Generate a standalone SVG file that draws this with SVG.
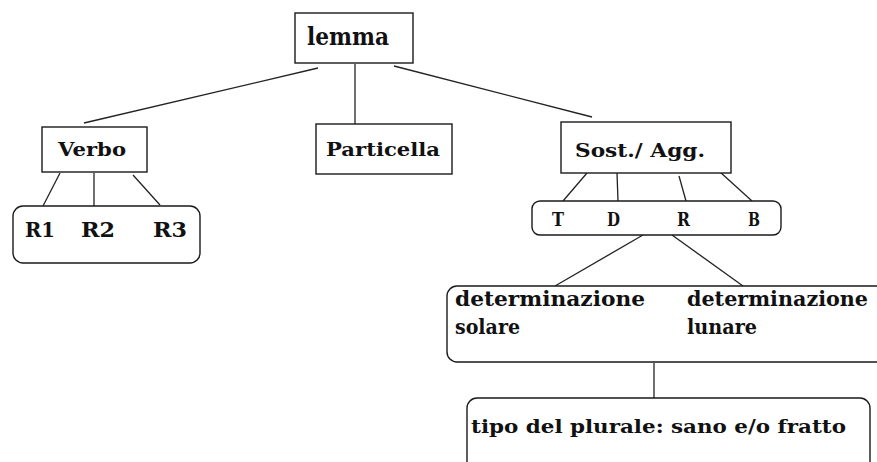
<svg xmlns="http://www.w3.org/2000/svg" width="877" height="462" viewBox="0 0 877 462">
<style>
.box{fill:#fff;stroke:#1a1a1a;stroke-width:1.4}
.t{font-family:"DejaVu Serif","Liberation Serif",serif;font-weight:bold;fill:#111}
.c line{stroke:#222;stroke-width:1.3}
</style>
<rect width="877" height="462" fill="#fff"/>
<g class="c" id="connectors">
<line x1="318" y1="68" x2="84" y2="123"/>
<line x1="355" y1="64" x2="355" y2="124"/>
<line x1="394" y1="66" x2="592" y2="117"/>
<line x1="60" y1="173" x2="43" y2="206"/>
<line x1="94" y1="173" x2="94" y2="206"/>
<line x1="133" y1="175" x2="160" y2="205"/>
<line x1="587" y1="173" x2="563" y2="201"/>
<line x1="617" y1="173" x2="618" y2="201"/>
<line x1="679" y1="176" x2="686" y2="201"/>
<line x1="720" y1="172" x2="752" y2="201"/>
<line x1="643" y1="235" x2="555" y2="286"/>
<line x1="672" y1="235" x2="743" y2="286"/>
<line x1="654" y1="363" x2="654" y2="398"/>
</g>
<g id="lemma">
<rect class="box" x="295" y="13" width="118" height="50"/>
<text class="t" x="307" y="45" font-size="24" textLength="82" lengthAdjust="spacingAndGlyphs">lemma</text>
</g>
<g id="verbo">
<rect class="box" x="42" y="127" width="105" height="45"/>
<text class="t" x="58" y="156" font-size="19" textLength="68" lengthAdjust="spacingAndGlyphs">Verbo</text>
</g>
<g id="particella">
<rect class="box" x="316" y="124" width="136" height="50"/>
<text class="t" x="326" y="156" font-size="19" textLength="114" lengthAdjust="spacingAndGlyphs">Particella</text>
</g>
<g id="sost">
<rect class="box" x="561" y="122" width="170" height="51"/>
<text class="t" x="575" y="157" font-size="19" textLength="130" lengthAdjust="spacingAndGlyphs">Sost./ Agg.</text>
</g>
<g id="radici">
<rect class="box" x="13" y="206" width="187" height="57" rx="10"/>
<text class="t" x="25" y="237" font-size="20" textLength="30" lengthAdjust="spacingAndGlyphs">R1</text>
<text class="t" x="81" y="237" font-size="20" textLength="34" lengthAdjust="spacingAndGlyphs">R2</text>
<text class="t" x="153" y="237" font-size="20" textLength="34" lengthAdjust="spacingAndGlyphs">R3</text>
</g>
<g id="tdrb">
<rect class="box" x="532" y="201" width="249" height="34" rx="8"/>
<text class="t" x="552" y="226" font-size="18" textLength="12" lengthAdjust="spacingAndGlyphs">T</text>
<text class="t" x="607" y="226" font-size="18" textLength="13" lengthAdjust="spacingAndGlyphs">D</text>
<text class="t" x="677" y="226" font-size="18" textLength="13" lengthAdjust="spacingAndGlyphs">R</text>
<text class="t" x="748" y="226" font-size="18" textLength="12" lengthAdjust="spacingAndGlyphs">B</text>
</g>
<g id="determinazione">
<rect class="box" x="447" y="286" width="460" height="76" rx="10"/>
<text class="t" x="455" y="306" font-size="20" textLength="190" lengthAdjust="spacingAndGlyphs">determinazione</text>
<text class="t" x="455" y="334" font-size="20" textLength="65" lengthAdjust="spacingAndGlyphs">solare</text>
<text class="t" x="687" y="306" font-size="20" textLength="181" lengthAdjust="spacingAndGlyphs">determinazione</text>
<text class="t" x="687" y="334" font-size="20" textLength="70" lengthAdjust="spacingAndGlyphs">lunare</text>
</g>
<g id="plurale">
<rect class="box" x="467" y="398" width="403" height="90" rx="10"/>
<text class="t" x="471" y="433" font-size="19" textLength="375" lengthAdjust="spacingAndGlyphs">tipo del plurale: sano e/o fratto</text>
</g>
</svg>
